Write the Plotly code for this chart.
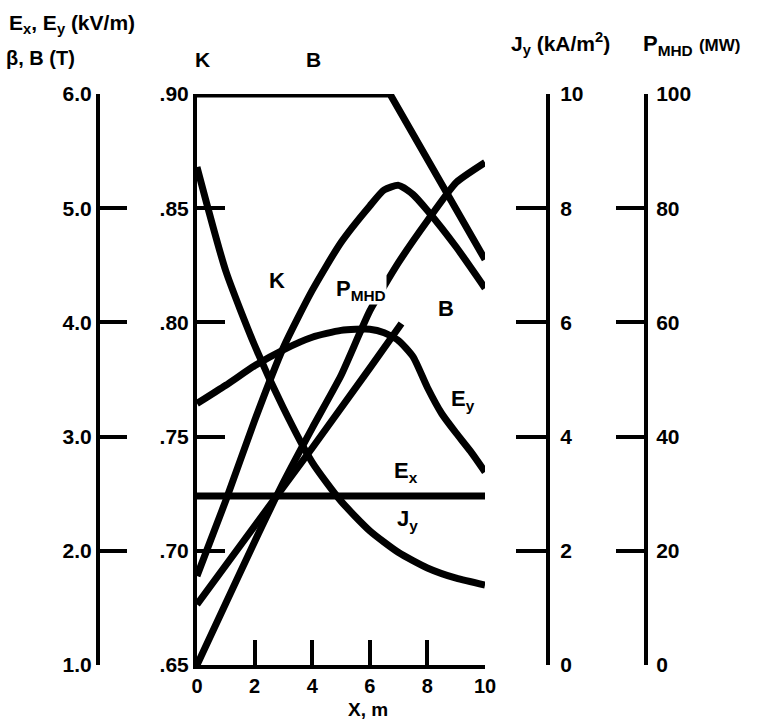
import plotly.graph_objects as go

W, H = 767, 721

# Distance along the channel, m
x_b = [0, 6.7, 10]
b_field = [6.0, 6.0, 4.55]              # B (T)

x_beta = [0, 1, 2, 3, 4, 5, 6, 7.1]
beta = [1.53, 1.88, 2.22, 2.56, 2.90, 3.24, 3.60, 3.99]   # Hall parameter

x_k = [0, 1, 2, 3, 4, 5, 6, 6.5, 7, 7.5, 8, 9, 10]
k_load = [0.689, 0.722, 0.757, 0.789, 0.814, 0.835, 0.851, 0.858,
          0.860, 0.856, 0.849, 0.833, 0.815]                # load factor K

x_ey = [0, 1, 2, 3, 4, 5, 6, 6.5, 7, 7.5, 8, 8.5, 9, 9.5, 10]
e_y = [3.29, 3.45, 3.62, 3.76, 3.87, 3.93, 3.94, 3.91, 3.84, 3.70,
       3.43, 3.20, 3.03, 2.87, 2.69]                         # kV/m

x_ex = [0, 10]
e_x = [2.48, 2.48]                                           # kV/m

x_j = [0, 1, 2, 3, 4, 5, 6, 7, 8, 9, 10]
j_y = [8.72, 6.90, 5.60, 4.50, 3.55, 2.87, 2.35, 1.97, 1.70, 1.52, 1.40]  # kA/m^2

x_p = [0, 1, 2, 3, 4, 5, 6, 7, 8, 9, 10]
p_mhd = [0, 10.8, 21.6, 32.0, 41.5, 50.7, 62.0, 70.5, 77.8, 84.5, 88.0]  # MW

# Axis ticks
x_ticks = [0, 2, 4, 6, 8, 10]
k_ticks = [0.65, 0.70, 0.75, 0.80, 0.85, 0.90]
k_labels = [".65", ".70", ".75", ".80", ".85", ".90"]
e_ticks = [1, 2, 3, 4, 5, 6]
e_labels = ["1.0", "2.0", "3.0", "4.0", "5.0", "6.0"]
j_ticks = [0, 2, 4, 6, 8, 10]
p_ticks = [0, 20, 40, 60, 80, 100]

FONT = "Liberation Sans, Arial, DejaVu Sans"
INK = "black"
LW = 7


def px(x):
    return x / W


def py(y):
    return 1 - y / H


fig = go.Figure()

common = dict(mode="lines", line=dict(color=INK, width=LW), hoverinfo="skip",
              showlegend=False)
smooth = dict(mode="lines", hoverinfo="skip", showlegend=False)

fig.add_trace(go.Scatter(x=x_b, y=b_field, yaxis="y2", **common))
fig.add_trace(go.Scatter(x=x_beta, y=beta, yaxis="y2", **common))
fig.add_trace(go.Scatter(x=x_ey, y=e_y, yaxis="y2",
                         line=dict(color=INK, width=LW, shape="spline", smoothing=0.6),
                         **smooth))
fig.add_trace(go.Scatter(x=x_ex, y=e_x, yaxis="y2", **common))
fig.add_trace(go.Scatter(x=x_k, y=k_load, yaxis="y",
                         line=dict(color=INK, width=LW, shape="spline", smoothing=0.6),
                         **smooth))
fig.add_trace(go.Scatter(x=x_j, y=j_y, yaxis="y3",
                         line=dict(color=INK, width=LW, shape="spline", smoothing=0.6),
                         **smooth))
fig.add_trace(go.Scatter(x=x_p, y=p_mhd, yaxis="y4",
                         line=dict(color=INK, width=LW, shape="spline", smoothing=0.5),
                         **smooth))

tickfont = dict(family=FONT, size=21, color=INK, weight="bold")
axis_common = dict(showgrid=False, zeroline=False, showline=True, linecolor=INK,
                   linewidth=4, ticks="inside", tickcolor=INK, tickwidth=4,
                   automargin=False, fixedrange=True)

x0, x1 = px(197), px(485)
y0, y1 = py(665), py(94)

fig.update_layout(
    template="none",
    width=W, height=H, autosize=False,
    margin=dict(l=0, r=0, t=0, b=0, pad=0),
    paper_bgcolor="white", plot_bgcolor="white",
    xaxis=dict(domain=[x0, x1], range=[0, 10], tickvals=x_ticks, ticklen=25,
               ticklabelstandoff=0,
               tickfont=dict(family=FONT, size=20, color=INK, weight="bold"),
               **axis_common),
    yaxis=dict(domain=[y0, y1], range=[0.65, 0.90], tickvals=k_ticks,
               ticktext=k_labels, ticklen=28, side="left", tickfont=tickfont,
               **axis_common),
    yaxis2=dict(overlaying="y", anchor="free", position=px(98), side="left",
                range=[1, 6], tickvals=e_ticks, ticktext=e_labels, ticklen=27,
                tickfont=tickfont, **axis_common),
    yaxis3=dict(overlaying="y", anchor="free", position=px(548), side="right",
                range=[0, 10], tickvals=j_ticks, ticklen=30,
                ticklabelstandoff=6, tickfont=tickfont, **axis_common),
    yaxis4=dict(overlaying="y", anchor="free", position=px(646), side="right",
                range=[0, 100], tickvals=p_ticks, ticklen=28,
                ticklabelstandoff=4, tickfont=tickfont, **axis_common),
)


def label(text, x, y, size=21, xanchor="center", bg=None):
    fig.add_annotation(
        text=text, x=px(x), y=py(y), xref="paper", yref="paper",
        xanchor=xanchor, yanchor="middle", showarrow=False,
        font=dict(family=FONT, size=size, color=INK, weight="bold"),
        bgcolor=bg, borderpad=0,
    )


# Axis titles
label("E<sub>x</sub>, E<sub>y</sub> (kV/m)", 8, 24, size=21, xanchor="left")
label("β, B (T)", 5, 58, size=20, xanchor="left")
label("K", 202, 60, size=21)
label("B", 313, 60, size=21)
label("J<sub>y</sub> (kA/m<sup>2</sup>)", 510, 44, size=21, xanchor="left")
label("P<sub>MHD</sub> <span style='font-size:17px'>(MW)</span>", 642, 45,
      size=22, xanchor="left")
label("X, m", 368, 709, size=19)

# Curve labels
label("K", 277, 280, size=22)
label("P<sub>MHD</sub>", 361, 290, size=22, bg="white")
label("B", 446, 308, size=22)
label("E<sub>y</sub>", 463, 400, size=22)
label("E<sub>x</sub>", 406, 472, size=22)
label("J<sub>y</sub>", 407, 520, size=22)

fig.write_html("out.html")
